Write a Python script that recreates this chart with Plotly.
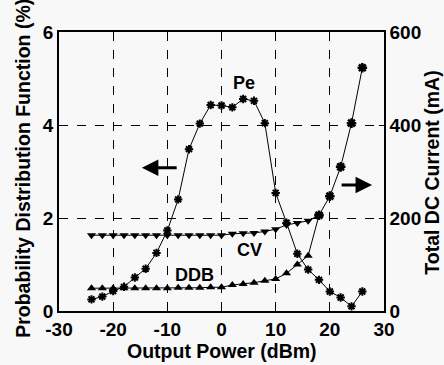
import plotly.graph_objects as go

# ---------------- data ----------------
pe_x = [-24, -22, -20, -18, -16, -14, -12, -10, -8, -6, -4, -2, 0, 2, 4, 6, 8,
        10, 12, 14, 16, 18, 20, 22, 24, 26]
pe_y = [0.25, 0.31, 0.43, 0.52, 0.72, 0.91, 1.25, 1.73, 2.40, 3.48, 4.03, 4.43,
        4.42, 4.38, 4.56, 4.52, 4.04, 2.54, 1.90, 1.23, 0.89, 0.67, 0.42, 0.29,
        0.10, 0.42]

cv_x = [-24, -22, -20, -18, -16, -14, -12, -10, -8, -6, -4, -2, 0, 2, 4, 6, 8,
        10, 12, 14, 16, 18]
cv_y = [163, 163, 163, 163, 163, 163, 163, 163, 163, 163, 163, 163, 163, 166,
        167, 168, 171, 176, 185, 189, 194, 206]

ddb_x = [-24, -22, -20, -18, -16, -14, -12, -10, -8, -6, -4, -2, 0, 2, 4, 6, 8,
         10, 12, 14, 16, 18]
ddb_y = [49, 49, 49, 49, 49, 49, 49, 49, 50, 50, 50, 51, 51, 56, 58, 61, 65,
         69, 81, 100, 119, 206]

hi_x = [18, 20, 22, 24, 26]
hi_y = [206, 247, 310, 404, 523]

x_ticks = [-30, -20, -10, 0, 10, 20, 30]
yl_ticks = [0, 2, 4, 6]
yr_ticks = [0, 200, 400, 600]

FONT = "Liberation Sans"
BG = "#f8f8f8"


def bold(v):
    return "<b>%s</b>" % v


fig = go.Figure()

fig.add_trace(go.Scatter(
    x=pe_x, y=pe_y, mode="lines+markers", yaxis="y",
    line=dict(color="black", width=1),
    marker=dict(symbol="asterisk-open", size=7, color="black",
                line=dict(color="black", width=2)),
    showlegend=False))

fig.add_trace(go.Scatter(
    x=cv_x, y=cv_y, mode="lines+markers", yaxis="y2",
    line=dict(color="black", width=1),
    marker=dict(symbol="triangle-down", size=8, color="black"),
    showlegend=False))

fig.add_trace(go.Scatter(
    x=ddb_x, y=ddb_y, mode="lines+markers", yaxis="y2",
    line=dict(color="black", width=1),
    marker=dict(symbol="triangle-up", size=8, color="black"),
    showlegend=False))

fig.add_trace(go.Scatter(
    x=hi_x, y=hi_y, mode="lines+markers", yaxis="y2",
    line=dict(color="black", width=1),
    marker=dict(symbol="asterisk-open", size=8, color="black",
                line=dict(color="black", width=2.5)),
    showlegend=False))

tick_font = dict(family=FONT, size=19, color="black")
title_font = dict(family=FONT, size=19.5, color="black")
label_font = dict(family=FONT, size=18, color="black")

fig.update_layout(
    width=444, height=365,
    margin=dict(l=59, r=60, t=32, b=54),
    paper_bgcolor=BG, plot_bgcolor=BG,
    font=tick_font,
    xaxis=dict(range=[-30, 30], tickvals=x_ticks,
               ticktext=[bold(v) for v in x_ticks], showline=True,
               linecolor="black", linewidth=1.5, mirror=True,
               showgrid=True, gridcolor="black", griddash="dash", gridwidth=1,
               zeroline=False, ticks="inside", ticklen=5, tickcolor="black",
               tickfont=tick_font),
    yaxis=dict(range=[0, 6], tickvals=yl_ticks,
               ticktext=[bold(v) for v in yl_ticks], showline=True,
               linecolor="black", linewidth=1.5, mirror=True,
               showgrid=True, gridcolor="black", griddash="dash", gridwidth=1,
               zeroline=False, ticks="inside", ticklen=5, tickcolor="black",
               tickfont=tick_font),
    yaxis2=dict(range=[0, 600], tickvals=yr_ticks,
                ticktext=[bold(v) for v in yr_ticks], overlaying="y",
                side="right", showline=True, linecolor="black", linewidth=1.5,
                showgrid=False, zeroline=False, ticks="inside", ticklen=5,
                tickcolor="black", tickfont=tick_font),
)

annots = [
    # axis titles
    dict(text=bold("Output Power (dBm)"), xref="paper", yref="paper",
         x=0.5, y=-0.145, showarrow=False, xanchor="center", yanchor="middle",
         font=title_font),
    dict(text=bold("Probability Distribution Function (%)"), xref="paper",
         yref="paper", x=-0.111, y=0.513, textangle=-90, showarrow=False,
         xanchor="center", yanchor="middle", font=title_font),
    dict(text=bold("Total DC Current (mA)"), xref="paper", yref="paper",
         x=1.148, y=0.496, textangle=-90, showarrow=False,
         xanchor="center", yanchor="middle", font=title_font),
    # curve labels
    dict(text=bold("Pe"), x=4.2, y=4.9, xref="x", yref="y", showarrow=False,
         font=label_font),
    dict(text=bold("CV"), x=5.1, y=1.31, xref="x", yref="y", showarrow=False,
         font=label_font),
    dict(text=bold("DDB"), x=-4.9, y=0.77, xref="x", yref="y",
         showarrow=False, font=label_font),
    # arrows
    dict(text="", x=-14.7, y=3.08, ax=-8.0, ay=3.08, xref="x", yref="y",
         axref="x", ayref="y", showarrow=True, arrowhead=2, arrowsize=1.1,
         arrowwidth=3, arrowcolor="black"),
    dict(text="", x=27.8, y=2.71, ax=21.9, ay=2.71, xref="x", yref="y",
         axref="x", ayref="y", showarrow=True, arrowhead=2, arrowsize=1.1,
         arrowwidth=3, arrowcolor="black"),
]
for a in annots:
    fig.add_annotation(**a)

fig.write_html("out.html", config={"displayModeBar": False},
               post_script="document.body.style.margin='0';"
                           "document.body.style.padding='0';")
